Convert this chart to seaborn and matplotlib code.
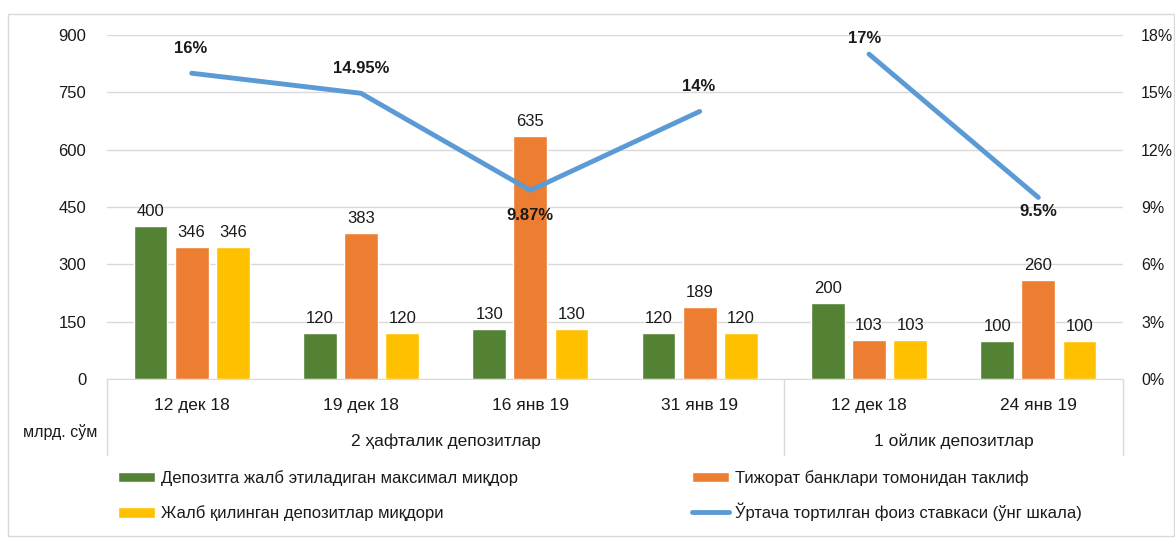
import numpy as np
import pandas as pd
import matplotlib
matplotlib.use("Agg")
import matplotlib.pyplot as plt
import seaborn as sns
from matplotlib.patches import Rectangle, Patch
from matplotlib.lines import Line2D
from matplotlib.ticker import FuncFormatter

# data
dates = ["12 дек 18", "19 дек 18", "16 янв 19", "31 янв 19", "12 дек 18", "24 янв 19"]
groups = ["2 ҳафталик депозитлар", "1 ойлик депозитлар"]
group_sizes = [4, 2]
max_amount = [400, 120, 130, 120, 200, 100]
bank_offer = [346, 383, 635, 189, 103, 260]
attracted = [346, 120, 130, 120, 103, 100]
avg_rate = [16, 14.95, 9.87, 14, 17, 9.5]
rate_labels = ["16%", "14.95%", "9.87%", "14%", "17%", "9.5%"]
rate_segment = [0, 0, 0, 0, 1, 1]

series_names = ["Депозитга жалб этиладиган максимал миқдор",
                "Тижорат банклари томонидан таклиф",
                "Жалб қилинган депозитлар миқдори"]
line_name = "Ўртача тортилган фоиз ставкаси (ўнг шкала)"
colors = ["#548235", "#ED7D31", "#FFC000"]
line_color = "#5B9BD5"
grid_color = "#D9D9D9"
txt = "#1a1a1a"

sns.set_style("white")
plt.rcParams["font.family"] = ["Liberation Sans", "DejaVu Sans"]

W, H = 1175, 538
slots = [str(i) for i in range(len(dates))]
bars = pd.DataFrame({
    "slot": slots * 3,
    "value": max_amount + bank_offer + attracted,
    "series": np.repeat(series_names, len(dates)),
})
rates = pd.DataFrame({"pos": range(len(dates)), "rate": avg_rate, "seg": rate_segment})

fig = plt.figure(figsize=(W / 100, H / 100), dpi=100)
ax = fig.add_axes([107 / W, 1 - 379 / H, (1123 - 107) / W, 344 / H])

sns.barplot(data=bars, x="slot", y="value", hue="series", order=slots,
            hue_order=series_names, palette=colors, saturation=1,
            width=0.73, gap=0.18, errorbar=None, legend=False, ax=ax)
for c in ax.containers:
    ax.bar_label(c, padding=5, fontsize=12, color=txt)

ax.set_ylim(0, 900)
ax.set_yticks(range(0, 901, 150))
ax.set_xlim(-0.5, len(dates) - 0.5)
ax.set_xticks(range(len(dates)))
ax.set_xticklabels(dates, fontsize=12.5, color=txt)
ax.tick_params(axis="x", length=0, pad=14)
ax.tick_params(axis="y", length=0, pad=15, labelsize=12, labelcolor=txt)
ax.yaxis.grid(True, color=grid_color, lw=1)
ax.set_axisbelow(True)
ax.set_xlabel("")
ax.set_ylabel("")
for s in ["top", "right", "left"]:
    ax.spines[s].set_visible(False)
ax.spines["bottom"].set_color(grid_color)

# right axis with the rate line
ax2 = ax.twinx()
sns.lineplot(data=rates, x="pos", y="rate", units="seg", estimator=None,
             color=line_color, lw=3.5, ax=ax2)
ax2.set_ylim(0, 18)
ax2.set_yticks(range(0, 19, 3))
ax2.yaxis.set_major_formatter(FuncFormatter(lambda v, p: f"{v:.0f}%"))
ax2.tick_params(axis="y", length=0, pad=13, labelsize=11.5, labelcolor=txt)
ax2.set_xlabel("")
ax2.set_ylabel("")
ax2.grid(False)
for s in ax2.spines.values():
    s.set_visible(False)
ax.set_xlim(-0.5, len(dates) - 0.5)

label_offsets = [(-1, 18), (0, 18), (0, -18), (-1, 18), (-3, 11), (0, -10)]
for i, (r, lab) in enumerate(zip(avg_rate, rate_labels)):
    ax2.annotate(lab, (i, r), xytext=label_offsets[i], textcoords="offset points",
                 ha="center", va="center", fontsize=12, fontweight="bold", color=txt)

# category table under the axis
trans = ax.get_xaxis_transform()
edges = np.concatenate([[0], np.cumsum(group_sizes)]) - 0.5
for e in edges:
    ax.add_line(Line2D([e, e], [0, -76 / 344], transform=trans, color=grid_color,
                       lw=1, clip_on=False))
for g, a, b in zip(groups, edges[:-1], edges[1:]):
    ax.text((a + b) / 2, -(441 - 379) / 344, g, transform=trans, ha="center",
            va="center", fontsize=12.5, color=txt)
fig.text(60 / W, 1 - 432 / H, "млрд. сўм", ha="center", va="center",
         fontsize=11.5, color=txt)

# legend in two columns
h1 = [Patch(facecolor=colors[0]), Patch(facecolor=colors[2])]
h2 = [Patch(facecolor=colors[1]), Line2D([], [], color=line_color, lw=3.5)]
common = dict(loc="upper left", frameon=False, fontsize=12, borderpad=0,
              borderaxespad=0, handlelength=2.2, handleheight=0.6,
              handletextpad=0.4)
leg1 = fig.legend(h1, [series_names[0], series_names[2]], labelspacing=1.17,
                  bbox_to_anchor=(118 / W, 1 - 470 / H), **common)
leg2 = fig.legend(h2, [series_names[1], line_name], labelspacing=0.99,
                  bbox_to_anchor=(692 / W, 1 - 470 / H), **common)
for lg in (leg1, leg2):
    for t in lg.get_texts():
        t.set_color(txt)

fig.add_artist(Rectangle((8 / W, 2 / H), 1166 / W, (536 - 14) / H, fill=False,
                         edgecolor=grid_color, lw=1, transform=fig.transFigure))

fig.savefig("out.png", dpi=100)
